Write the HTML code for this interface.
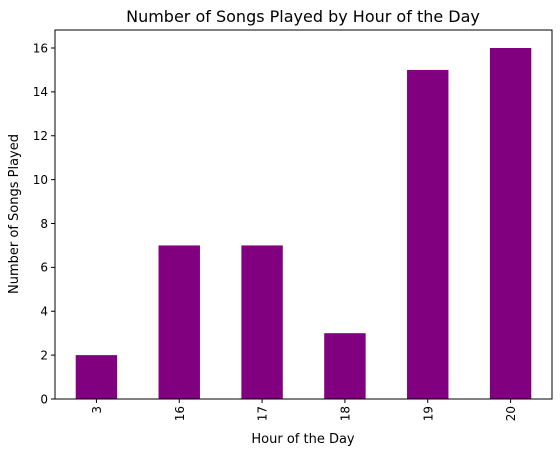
<!DOCTYPE html>
<html><head><meta charset="utf-8"><style>
html,body{margin:0;padding:0;background:#fff;}
svg text{font-family:"DejaVu Sans","Liberation Sans",sans-serif;fill:#000;}
</style></head><body>
<svg id="chart" width="560" height="455" xmlns="http://www.w3.org/2000/svg">
<text x="303" y="22" font-size="16" text-anchor="middle">Number of Songs Played by Hour of the Day</text>
<text x="303" y="443" font-size="13" text-anchor="middle">Hour of the Day</text>
<text transform="translate(18,214) rotate(-90)" font-size="13" text-anchor="middle">Number of Songs Played</text>
<g id="bars"></g><g id="ticks"></g>
<rect x="55" y="30" width="497" height="369" fill="none" stroke="#000" stroke-width="1"/>
</svg>
<script>
const categories = ["3","16","17","18","19","20"];
const values = [2,7,7,3,15,16];
const yTicks = [0,2,4,6,8,10,12,14,16];
const L=55,R=552,B=399,T=30;
const xs = i => L + (i+0.5)*(R-L)/categories.length;
const ys = v => B - v*(B-48)/16;
const ns="http://www.w3.org/2000/svg";
const bars=document.getElementById('bars'), ticks=document.getElementById('ticks');
const bw=0.5*(R-L)/categories.length;
values.forEach((v,i)=>{
  const r=document.createElementNS(ns,'rect');
  r.setAttribute('x',xs(i)-bw/2);r.setAttribute('y',ys(v));
  r.setAttribute('width',bw);r.setAttribute('height',ys(0)-ys(v));
  r.setAttribute('fill','#800080');
  
  
  bars.appendChild(r);
  const l=document.createElementNS(ns,'line');
  l.setAttribute('x1',xs(i));l.setAttribute('x2',xs(i));l.setAttribute('y1',B);l.setAttribute('y2',B+4);l.setAttribute('stroke','#000');
  
  
  ticks.appendChild(l);
  const t=document.createElementNS(ns,'text');
  t.setAttribute('transform',`translate(${xs(i)+4.5},${B+7}) rotate(-90)`);
  t.setAttribute('font-size','12');t.setAttribute('text-anchor','end');
  t.textContent=categories[i];
  
  
  ticks.appendChild(t);
});
yTicks.forEach(v=>{
  const l=document.createElementNS(ns,'line');
  l.setAttribute('x1',L-4);l.setAttribute('x2',L);l.setAttribute('y1',ys(v));l.setAttribute('y2',ys(v));l.setAttribute('stroke','#000');
  
  
  ticks.appendChild(l);
  const t=document.createElementNS(ns,'text');
  t.setAttribute('x',L-7);t.setAttribute('y',ys(v)+4.3);
  t.setAttribute('font-size','12');t.setAttribute('text-anchor','end');
  t.textContent=v;
  
  
  ticks.appendChild(t);
});
</script>
</body></html>
